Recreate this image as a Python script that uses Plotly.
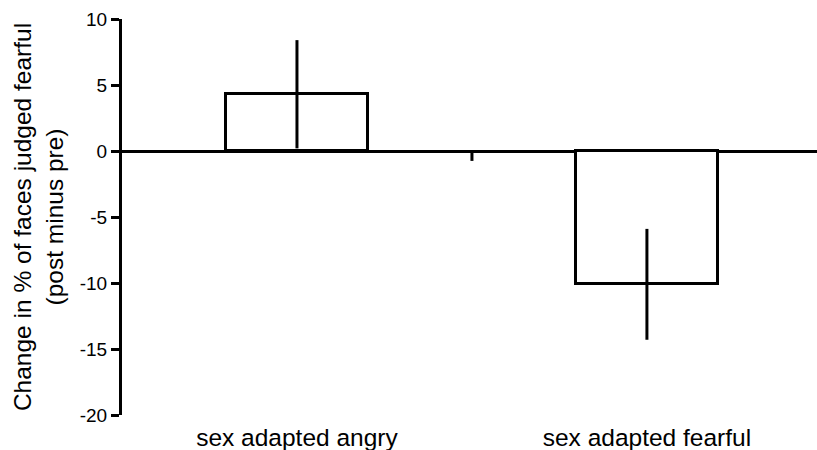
import plotly.graph_objects as go

categories = ["sex adapted angry", "sex adapted fearful"]
means = [4.3, -10.1]
errors = [4.1, 4.2]
y_ticks = [-20, -15, -10, -5, 0, 5, 10]
y_tick_labels = ["-20", "-15", "-10", "-5", "0", "5", "10"]

x_pos = list(range(len(categories)))

fig = go.Figure()
fig.add_trace(go.Bar(
    x=x_pos, y=means, width=0.405,
    marker=dict(color="white", line=dict(color="black", width=3)),
    error_y=dict(type="data", array=errors, visible=True, color="black",
                 thickness=3, width=0),
    showlegend=False, hoverinfo="skip",
))

# small separator tick between the two categories on the zero line
fig.add_shape(type="line", xref="x", yref="y", x0=0.5, x1=0.5, y0=0, y1=-0.75,
              line=dict(color="black", width=3))

fig.update_layout(
    width=817, height=450,
    margin=dict(l=122, r=0, t=19, b=35),
    paper_bgcolor="white", plot_bgcolor="white",
    font=dict(family="Liberation Sans, Arial, sans-serif", color="black"),
    xaxis=dict(
        range=[-0.5, 1.486], tickmode="array", tickvals=x_pos, ticktext=categories,
        showline=False, showgrid=False, zeroline=False, ticks="",
        tickfont=dict(size=24.5), automargin=False, ticklabelstandoff=5,
    ),
    yaxis=dict(
        range=[-20, 10], tickmode="array", tickvals=y_ticks, ticktext=y_tick_labels,
        showline=True, linecolor="black", linewidth=3,
        ticks="outside", ticklen=8, tickwidth=3, tickcolor="black",
        showgrid=False, zeroline=True, zerolinecolor="black", zerolinewidth=3,
        tickfont=dict(size=19), automargin=False,
        title=dict(text="Change in % of faces judged fearful<br>(post minus pre)",
                   font=dict(size=24.5), standoff=10),
    ),
    bargap=0,
)

fig.write_html(
    "out.html",
    config={"displayModeBar": False},
    post_script="document.body.style.margin='0';document.body.style.overflow='hidden';",
)
